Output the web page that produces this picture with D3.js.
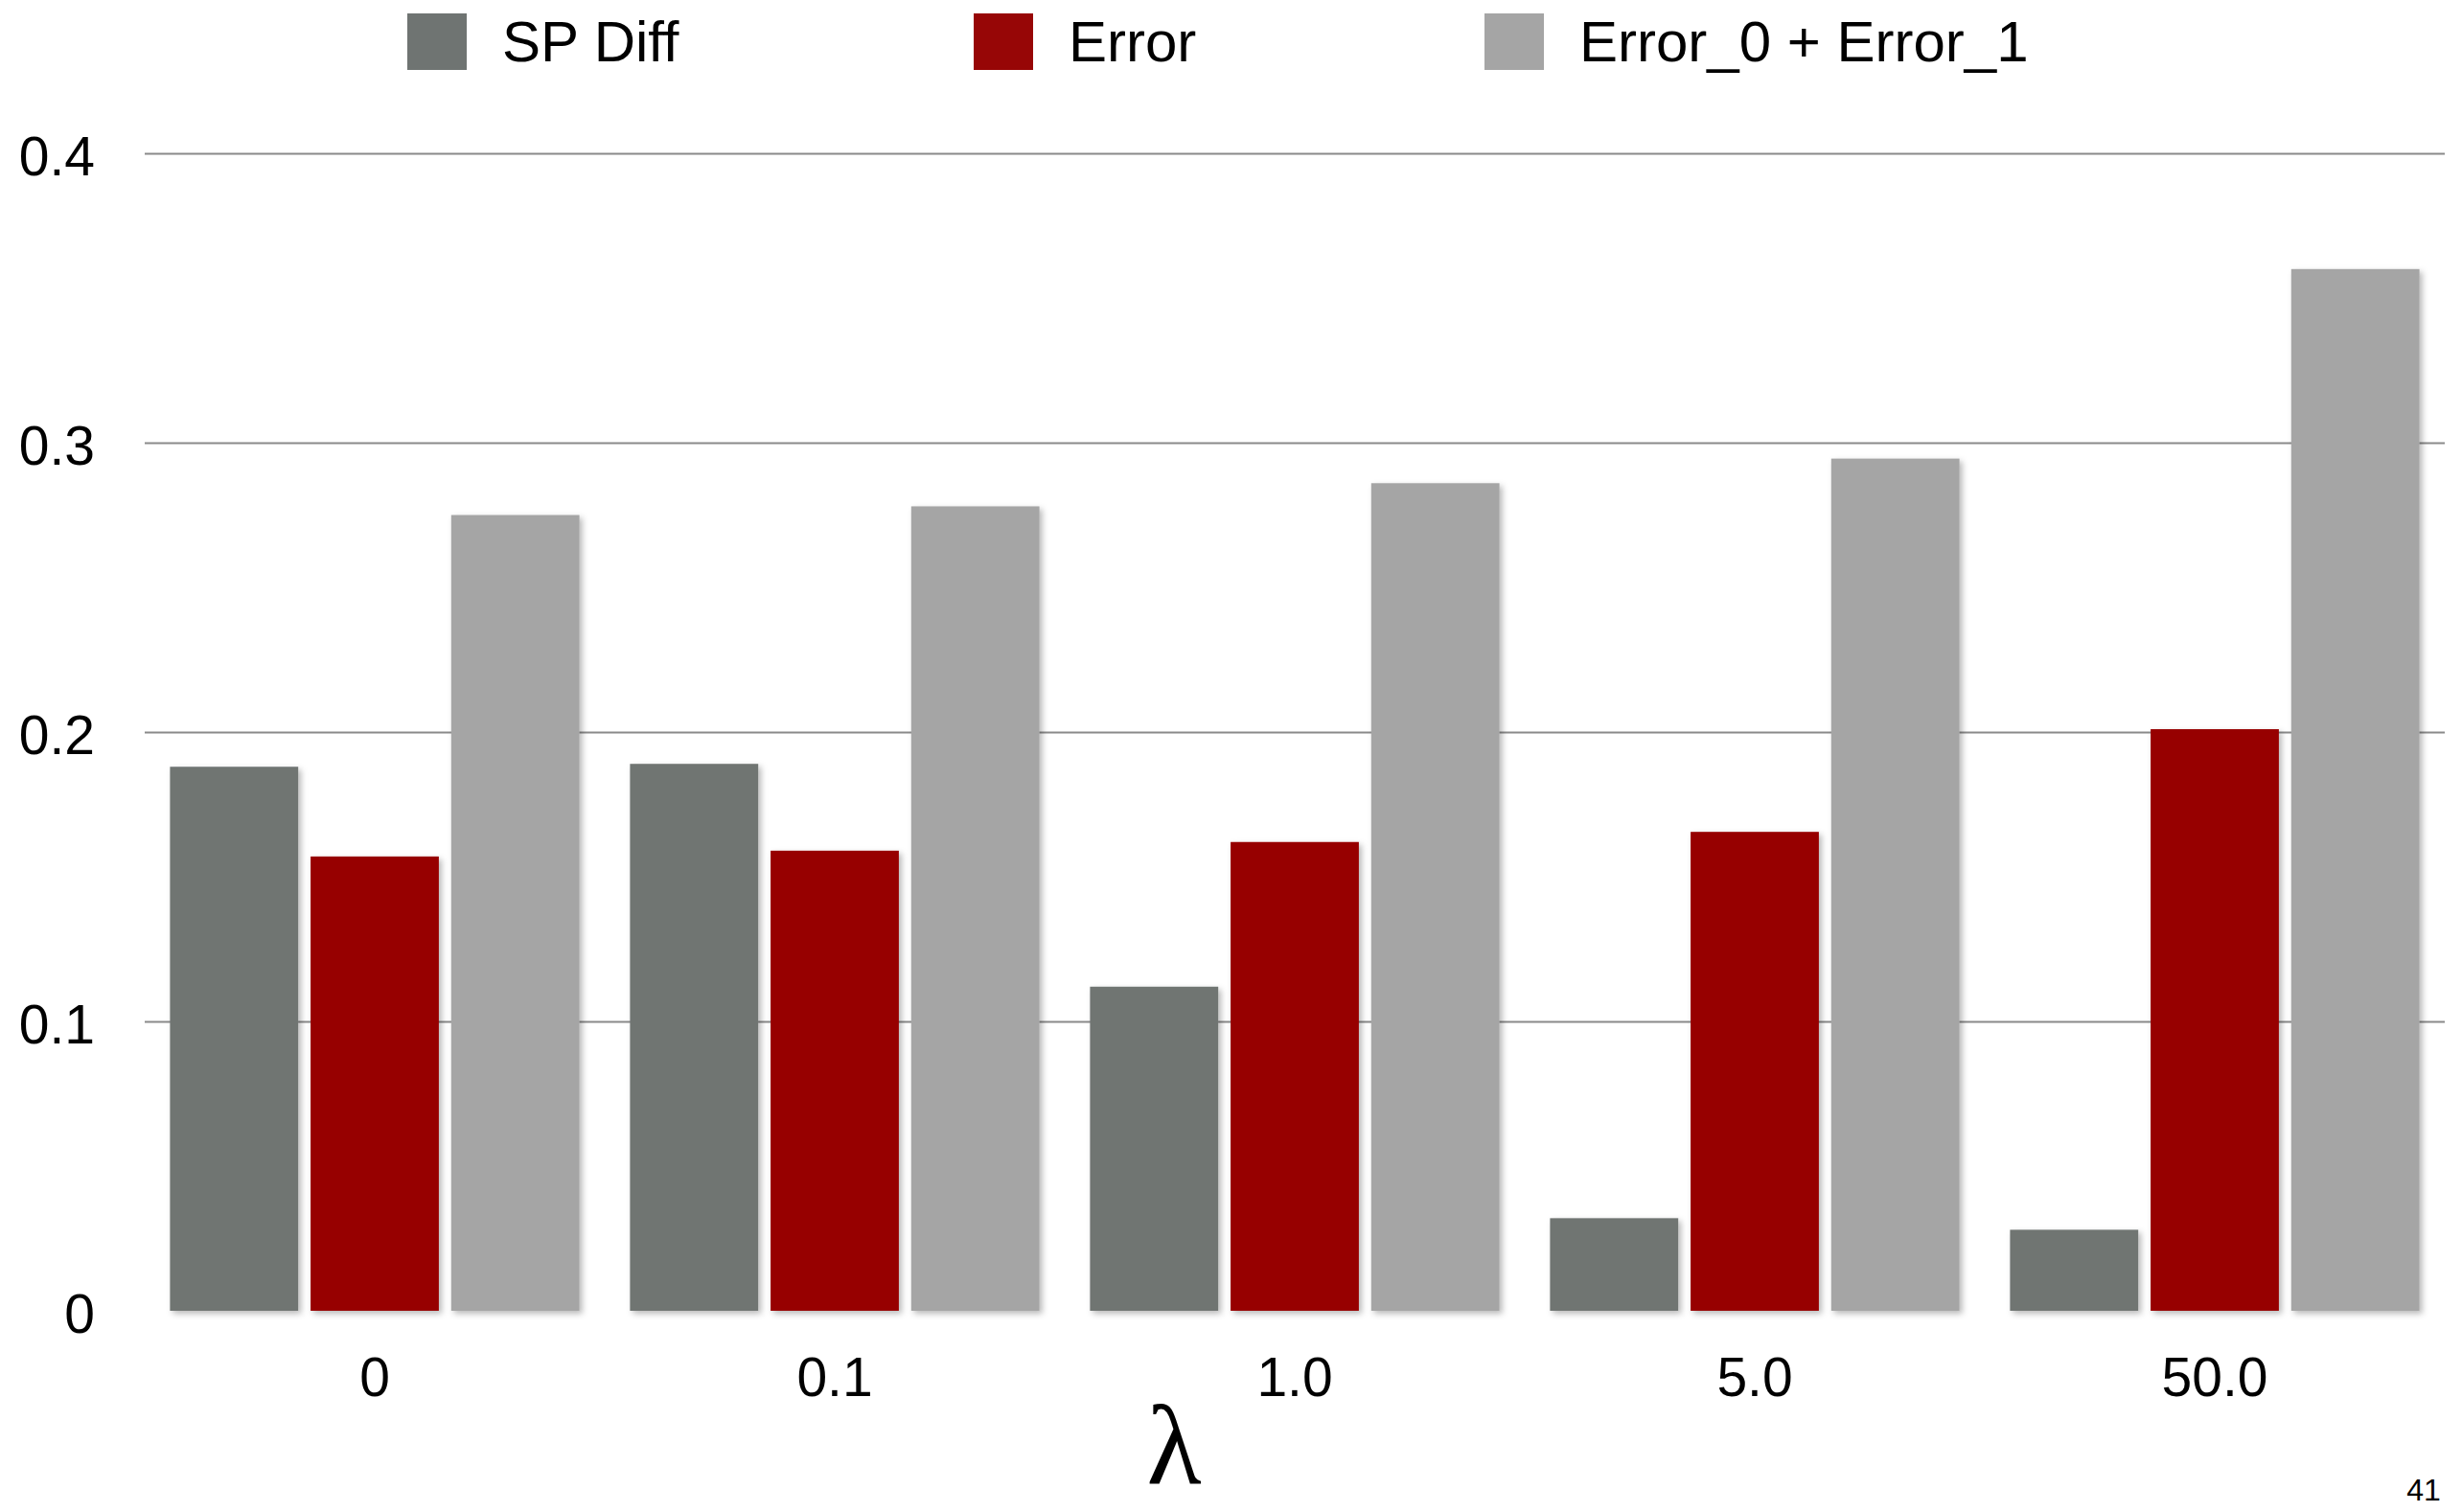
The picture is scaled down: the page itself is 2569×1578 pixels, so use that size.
<!DOCTYPE html>
<html>
<head>
<meta charset="utf-8">
<script src="https://cdn.jsdelivr.net/npm/d3@7"></script>
<style>
  html, body { margin: 0; padding: 0; background: #ffffff; }
  svg { display: block; }
</style>
</head>
<body>
<script>
// ---- data ----
const categories = ["0", "0.1", "1.0", "5.0", "50.0"];
const seriesNames = ["SP Diff", "Error", "Error_0 + Error_1"];
const spDiff   = [0.188, 0.189, 0.112, 0.032, 0.028];
const errorVal = [0.157, 0.159, 0.162, 0.1655, 0.201];
const error01  = [0.275, 0.278, 0.286, 0.2945, 0.360];
const yTicks = [0, 0.1, 0.2, 0.3, 0.4];
const yTickLabels = ["0", "0.1", "0.2", "0.3", "0.4"];
const colors = ["#6f7472", "#970606", "#a5a5a5"];
const xAxisTitle = "λ";
const pageNumber = "41";

const W = 2569, H = 1578;
const plotLeft = 151, plotRight = 2551, yZero = 1368, yTop = 160;

const svg = d3.select("body").append("svg")
  .attr("width", W).attr("height", H);

const defs = svg.append("defs");
const f = defs.append("filter").attr("id", "shadow")
  .attr("x", "-10%").attr("y", "-10%").attr("width", "130%").attr("height", "130%");
f.append("feDropShadow").attr("dx", 3).attr("dy", 3).attr("stdDeviation", 3)
  .attr("flood-color", "#000").attr("flood-opacity", 0.28);
const f2 = defs.append("filter").attr("id", "lineShadow")
  .attr("x", "-5%").attr("y", "-500%").attr("width", "110%").attr("height", "1100%");
f2.append("feDropShadow").attr("dx", 0).attr("dy", 4).attr("stdDeviation", 4)
  .attr("flood-color", "#000").attr("flood-opacity", 0.3);

const x0 = d3.scaleBand().domain(categories).range([plotLeft, plotRight])
  .paddingInner(0.11).paddingOuter(0.055);
const x1 = d3.scaleBand().domain(seriesNames).range([0, x0.bandwidth()])
  .paddingInner(0.088).paddingOuter(0);
const y = d3.scaleLinear().domain([0, 0.4]).range([yZero, yTop]);

// gridlines (non-zero)
const grid = svg.append("g")
  .attr("transform", `translate(${plotLeft},0)`)
  .call(d3.axisLeft(y).tickValues(yTicks.filter(d => d > 0))
    .tickSize(-(plotRight - plotLeft)).tickFormat(""));
grid.select(".domain").remove();
grid.selectAll(".tick line").attr("stroke", "#8a8a8a").attr("stroke-width", 2);

// y tick labels
const yAxis = svg.append("g")
  .attr("transform", `translate(99,0)`)
  .call(d3.axisLeft(y).tickValues(yTicks).tickSize(0).tickPadding(0)
    .tickFormat((d, i) => yTickLabels[i]));
yAxis.select(".domain").remove();
yAxis.selectAll(".tick text")
  .attr("font-family", "'Liberation Sans', Arial, Helvetica, sans-serif")
  .attr("font-size", 57).attr("fill", "#000")
  .attr("dy", null).attr("y", 22).attr("text-anchor", "end");

// bars
const rows = categories.map((c, i) => ({
  cat: c, vals: [spDiff[i], errorVal[i], error01[i]]
}));
const groups = svg.append("g").selectAll("g").data(rows).join("g")
  .attr("transform", d => `translate(${x0(d.cat)},0)`);
groups.selectAll("rect")
  .data(d => d.vals.map((v, k) => ({ name: seriesNames[k], v, k })))
  .join("rect")
  .attr("x", d => x1(d.name))
  .attr("y", d => y(d.v))
  .attr("width", x1.bandwidth())
  .attr("height", d => yZero - y(d.v))
  .attr("fill", d => colors[d.k])
  .attr("filter", "url(#shadow)");

// zero line
svg.append("line")
  .attr("x1", plotLeft - 4).attr("x2", plotRight + 2)
  .attr("y1", yZero).attr("y2", yZero)
  .attr("stroke", "#6a6a6a").attr("stroke-width", 3)
  .attr("filter", "url(#lineShadow)");

// x labels
const xAxis = svg.append("g")
  .attr("transform", `translate(0,${yZero})`)
  .call(d3.axisBottom(x0).tickSize(0).tickPadding(0));
xAxis.select(".domain").remove();
xAxis.selectAll(".tick text")
  .attr("font-family", "'Liberation Sans', Arial, Helvetica, sans-serif")
  .attr("font-size", 57).attr("fill", "#000")
  .attr("dy", null).attr("y", 89);

// x axis title (lambda)
svg.append("text")
  .attr("x", 1225).attr("y", 1548)
  .attr("text-anchor", "middle")
  .attr("font-family", "'Liberation Serif', 'DejaVu Serif', serif")
  .attr("font-size", 118).attr("fill", "#000")
  .text(xAxisTitle);

// page number
svg.append("text")
  .attr("x", 2529).attr("y", 1566)
  .attr("text-anchor", "middle")
  .attr("font-family", "'Liberation Sans', Arial, sans-serif")
  .attr("font-size", 32).attr("fill", "#000")
  .text(pageNumber);

// legend
const legendX = [425, 1016, 1549];
const leg = svg.append("g").selectAll("g").data(seriesNames).join("g")
  .attr("transform", (d, i) => `translate(${legendX[i]},14)`);
leg.append("rect").attr("width", 62).attr("height", 59)
  .attr("fill", (d, i) => colors[i]);
leg.append("text").attr("x", 99).attr("y", 50)
  .attr("font-family", "'Liberation Sans', Arial, Helvetica, sans-serif")
  .attr("font-size", 60).attr("fill", "#000")
  .text(d => d);
</script>
</body>
</html>
